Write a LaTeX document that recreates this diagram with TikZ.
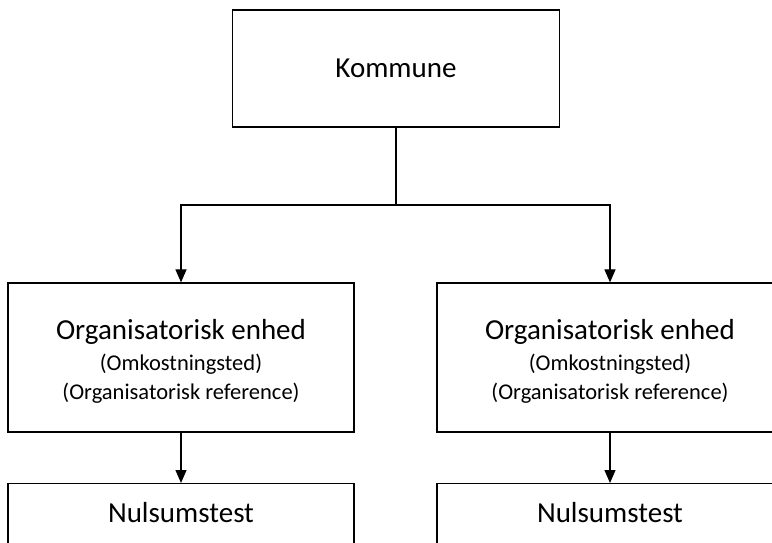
\documentclass[tikz,border=0pt]{standalone}
\usepackage{fontspec}
\setmainfont{Carlito}
\usetikzlibrary{arrows.meta}
\newcommand{\mainsize}{\fontsize{29}{28.5}\selectfont}
\newcommand{\notesize}{\fontsize{22.5}{28.5}\selectfont}
\tikzset{
  unitbox/.style={draw,line width=1.2pt,font=\mainsize,align=center,inner sep=0pt},
  linkarrow/.style={line width=1.2pt,-{Triangle[width=11pt,length=13pt]}}
}
\begin{document}
\begin{tikzpicture}[x=1pt,y=1pt]
  \clip (0,0) rectangle (772,542);

  % Top level
  \node[unitbox,minimum width=327,minimum height=117] (kom) at (396,473.5) {Kommune};

  % Organisational units
  \node[unitbox,minimum width=346,minimum height=149] (org1) at (181,184.5)
  {\rule{0pt}{27pt}Organisatorisk enhed\\[3pt]{\notesize (Omkostningsted)}\\{\notesize (Organisatorisk reference)}};
  \node[unitbox,minimum width=346,minimum height=149] (org2) at (610,184.5)
  {\rule{0pt}{27pt}Organisatorisk enhed\\[3pt]{\notesize (Omkostningsted)}\\{\notesize (Organisatorisk reference)}};

  % Zero-sum tests (cut off at the bottom)
  \node[unitbox,minimum width=346,anchor=north,inner ysep=18pt,text height=21pt,text depth=110pt] (nul1) at (181,59) {Nulsumstest};
  \node[unitbox,minimum width=346,anchor=north,inner ysep=18pt,text height=21pt,text depth=110pt] (nul2) at (610,59) {Nulsumstest};

  % Connectors
  \coordinate (split) at (396,337);
  \draw[line width=1.2pt] (kom.south) -- (split);
  \draw[linkarrow] (split) -| (org1.north);
  \draw[linkarrow] (split) -| (org2.north);
  \draw[linkarrow] (org1.south) -- (nul1.north);
  \draw[linkarrow] (org2.south) -- (nul2.north);
\end{tikzpicture}
\end{document}
